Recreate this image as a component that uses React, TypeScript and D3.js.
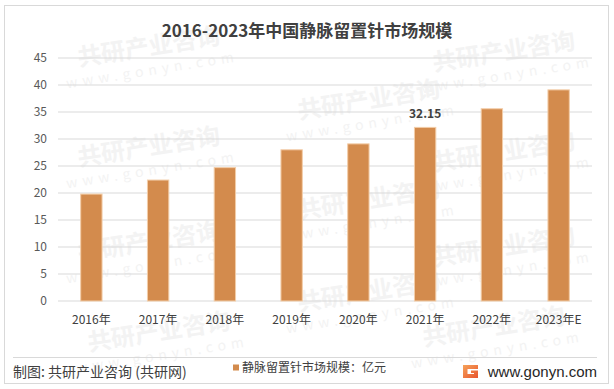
import * as d3 from "d3";

const years = ["2016年", "2017年", "2018年", "2019年", "2020年", "2021年", "2022年", "2023年E"];
const marketSize = [19.8, 22.4, 24.7, 28.0, 29.1, 32.15, 35.6, 39.1];
const yTicks = [0, 5, 10, 15, 20, 25, 30, 35, 40, 45];
const labelled = ["2021年"];

const W = 614;
const H = 389;
const FONT = "'Noto Sans CJK SC', 'Noto Sans', sans-serif";

// faint watermark tiles
const marks = [
  [150, 55], [505, 60], [370, 108], [150, 155], [505, 160],
  [370, 208], [150, 250], [505, 255], [370, 300], [160, 340], [495, 335],
];

export default function App() {
  const x = d3.scaleBand().domain(years).range([58, 592]).paddingInner(0.68).paddingOuter(0.34);
  const y = d3.scaleLinear().domain([0, 45]).range([301, 58]);

  return (
    <svg width={W} height={H} style={{ position: "absolute", left: 0, top: 0 }} fontFamily={FONT}>
      <rect x={0} y={0} width={W} height={H} fill="#fff" />
      <rect x={4.5} y={5.5} width={604} height={378} fill="none" stroke="#d9d9d9" strokeWidth={1} />

      {marks.map(([cx, cy], i) => (
        <g key={i} transform={`translate(${cx},${cy}) rotate(-9)`} fill="#f3f3f3">
          <text textAnchor="middle" fontSize={24} fontWeight="bold">共研产业咨询</text>
          <text y={20} textAnchor="middle" fontSize={14} letterSpacing={5}>www.gonyn.com</text>
        </g>
      ))}

      <text x={307} y={37} textAnchor="middle" fontSize={17} fontWeight="bold" fill="#404040">
        2016-2023年中国静脉留置针市场规模
      </text>

      {yTicks.map((t) => (
        <g key={t}>
          <line x1={58} x2={592} y1={y(t)} y2={y(t)} stroke="#d9d9d9" strokeWidth={1} />
          <text x={47} y={y(t)} dy="0.35em" textAnchor="end" fontSize={12} fill="#595959">
            {t}
          </text>
        </g>
      ))}

      {years.map((yr, i) => (
        <g key={yr}>
          <rect
            x={x(yr)}
            y={y(marketSize[i])}
            width={x.bandwidth()}
            height={y(0) - y(marketSize[i])}
            fill="#d38b4d"
            stroke="#f3cda8"
            strokeWidth={1}
          />
          <text x={x(yr)! + x.bandwidth() / 2} y={324} textAnchor="middle" fontSize={12} fill="#404040">
            {yr}
          </text>
          {labelled.includes(yr) && (
            <text
              x={x(yr)! + x.bandwidth() / 2}
              y={y(marketSize[i]) - 9}
              textAnchor="middle"
              fontSize={12}
              fontWeight="bold"
              fill="#404040"
            >
              {marketSize[i].toFixed(2)}
            </text>
          )}
        </g>
      ))}

      <line x1={13} x2={597} y1={357.5} y2={357.5} stroke="#d9d9d9" strokeWidth={1} />
      <text x={13} y={377} fontSize={14} fill="#404040">制图: 共研产业咨询 (共研网)</text>
      <rect x={233} y={364.5} width={6} height={6} fill="#d38b4d" />
      <text x={242} y={372} fontSize={12} fill="#404040">静脉留置针市场规模：亿元</text>

      <defs>
        <linearGradient id="logo" x1="0" y1="0" x2="1" y2="1">
          <stop offset="0" stopColor="#f6a35a" />
          <stop offset="1" stopColor="#e8552e" />
        </linearGradient>
      </defs>
      <g transform="translate(463,365)">
        <path d="M0,0 H15 V4 H4.5 V9 H11 V8 H8 V5.5 H15 V13 H0 Z" fill="url(#logo)" />
      </g>
      <text x={597} y={377} textAnchor="end" fontSize={15} fill="#262626" fontFamily="'Liberation Sans', Arial, sans-serif">
        www.gonyn.com
      </text>
    </svg>
  );
}
